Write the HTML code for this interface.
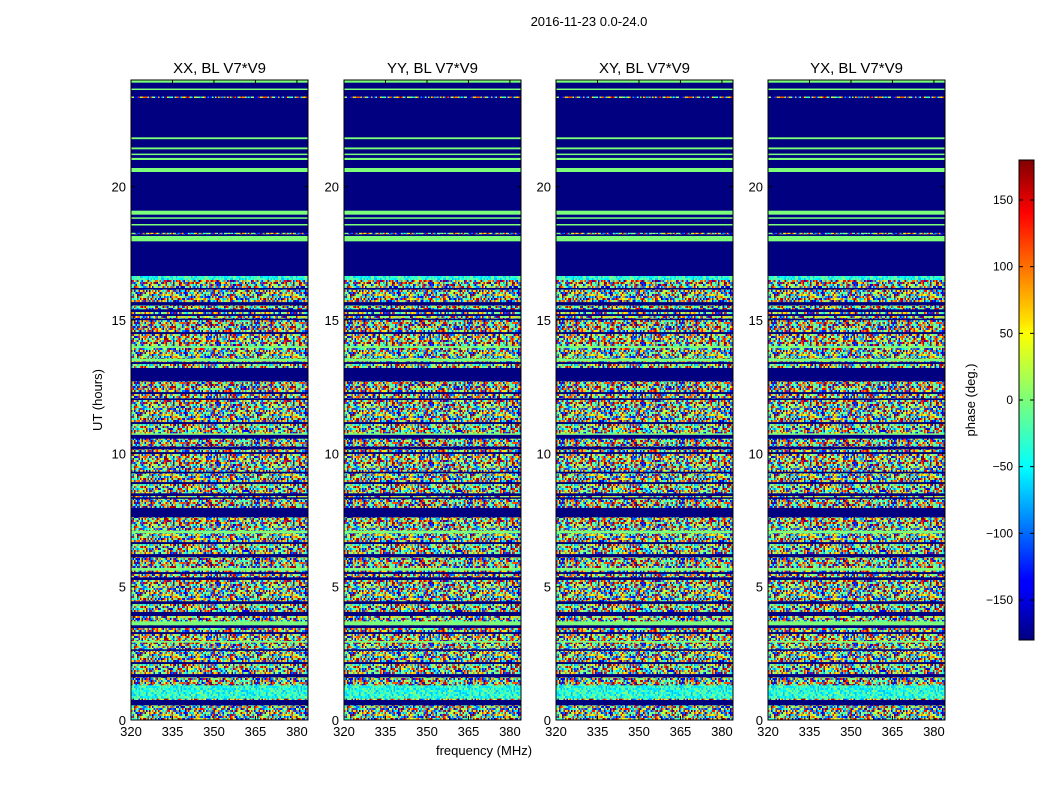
<!DOCTYPE html>
<html><head><meta charset="utf-8"><style>
body{margin:0;background:#fff;font-family:"Liberation Sans",sans-serif;}
svg text{font-family:"Liberation Sans",sans-serif;}
</style></head><body>
<svg id="chart" width="1050" height="800" xmlns="http://www.w3.org/2000/svg">
<defs>
<linearGradient id="jetgrad" x1="0" y1="1" x2="0" y2="0">
<stop offset="0" stop-color="#00007f"/><stop offset="0.11" stop-color="#0000ff"/><stop offset="0.125" stop-color="#0000ff"/>
<stop offset="0.36" stop-color="#00ffff"/><stop offset="0.5" stop-color="#7cff79"/><stop offset="0.64" stop-color="#ffff00"/>
<stop offset="0.66" stop-color="#ffe600"/><stop offset="0.89" stop-color="#ff0000"/><stop offset="1" stop-color="#800000"/>
</linearGradient>
</defs>
<text x="589" y="26" font-size="13" text-anchor="middle">2016-11-23 0.0-24.0</text>
<g id="panels"></g>
<text x="484" y="755" font-size="13" text-anchor="middle">frequency (MHz)</text>
<text transform="translate(102,400) rotate(-90)" font-size="13" text-anchor="middle">UT (hours)</text>
<g id="cbar"></g>
<text transform="translate(975,400) rotate(-90)" font-size="13" text-anchor="middle">phase (deg.)</text>
</svg>
<script>
const titles=["XX, BL V7*V9","YY, BL V7*V9","XY, BL V7*V9","YX, BL V7*V9"];
const xTicks=[320,335,350,365,380];
const yTicks=[0,5,10,15,20];
const cbTicks=[-150,-100,-50,0,50,100,150];
// bands: start hour, end hour, type (n=noise, c=cyan noise, b=blue, g=green)
const bandStart=[0,16.5,23.9,23.33,23.63,21.78,21.40,21.2,21.0,20.55,18.95,18.8,18.55,18.22,17.95,16.15,15.55,15.3,15.0,13.95,13.45,12.7,12.0,11.1,10.7,10.55,10.15,9.25,8.45,8.3,7.6,7.0,6.1,5.6,5.25,4.4,3.95,3.55,3.45,2.9,2.6,2.1,1.6,0.8,0.55];
const bandEnd=[16.5,16.65,24,23.38,23.68,21.85,21.47,21.24,21.08,20.7,19.1,18.85,18.6,18.27,18.15,16.2,15.6,15.4,15.05,14.02,13.55,13.2,12.06,11.16,10.75,10.65,10.25,9.31,8.5,8.35,7.95,7.1,6.16,5.7,5.35,4.45,4.05,3.7,3.55,2.96,2.65,2.16,1.66,1.3,0.75];
const bandType=["n","c","g","n","g","g","g","g","g","g","g","g","g","n","g","b","b","b","b","g","g","b","b","b","g","b","b","b","b","b","b","g","b","g","b","b","b","g","b","g","b","b","b","c","b"];
const panelX=[131,344,556,768], PW=177, TOP=80, BOT=720;
const xMin=320,xMax=384,yMin=0,yMax=24;
function jet(v){const cl=x=>Math.max(0,Math.min(1,x));
 const r=cl(Math.min(4*v-1.5,-4*v+4.5)),g=cl(Math.min(4*v-0.5,-4*v+3.5)),b=cl(Math.min(4*v+0.5,-4*v+2.5));
 return `rgb(${Math.round(r*255)},${Math.round(g*255)},${Math.round(b*255)})`;}
const NS="http://www.w3.org/2000/svg";
const svg=document.getElementById('chart');
const defs=svg.querySelector('defs');
// texture patterns (visual texture only)
let seed=12345;function rnd(){seed=(seed*1103515245+12345)%2147483648;return seed/2147483648;}
function makePattern(id,lo,hi,pgreen,pnavy){
 const p=document.createElementNS(NS,'pattern');p.setAttribute('id',id);p.setAttribute('patternUnits','userSpaceOnUse');
 p.setAttribute('width',120);p.setAttribute('height',60);
 const bg=document.createElementNS(NS,'rect');bg.setAttribute('width',120);bg.setAttribute('height',60);bg.setAttribute('fill','#000080');p.appendChild(bg);
 for(let y=0;y<60;y+=2){
  if(rnd()<pnavy) continue;
  for(let x=0;x<120;x+=1.5){const r=document.createElementNS(NS,'rect');
  r.setAttribute('x',x);r.setAttribute('y',y);r.setAttribute('width',1.6);r.setAttribute('height',2.1);
  const v=rnd()<pgreen?0.5:lo+(hi-lo)*rnd();r.setAttribute('fill',jet(v));p.appendChild(r);}}
 defs.appendChild(p);}
makePattern('noise',0.05,1,0.15,0.06);makePattern('cyan',0.3,0.5,0.1,0);
const fills={n:'url(#noise)',c:'url(#cyan)',b:'#000080',g:'#7cff79'};
const xs=f=>(f-xMin)/(xMax-xMin)*PW;
const ys=h=>BOT-(h-yMin)/(yMax-yMin)*(BOT-TOP);
const pg=document.getElementById('panels');
panelX.forEach((px,i)=>{
 const g=document.createElementNS(NS,'g');
 
 
 g.setAttribute('transform',`translate(${px},0)`);
 const bg=document.createElementNS(NS,'rect');bg.setAttribute('x',0);bg.setAttribute('y',TOP);bg.setAttribute('width',PW);bg.setAttribute('height',BOT-TOP);bg.setAttribute('fill','#000080');g.appendChild(bg);
 bandStart.forEach((s,k)=>{const r=document.createElementNS(NS,'rect');
  
  
  r.setAttribute('x',0);r.setAttribute('y',ys(bandEnd[k]));r.setAttribute('width',PW);
  r.setAttribute('height',Math.max(1.5,ys(s)-ys(bandEnd[k])));r.setAttribute('fill',fills[bandType[k]]);g.appendChild(r);});
 const fr=document.createElementNS(NS,'rect');fr.setAttribute('x',0);fr.setAttribute('y',TOP);fr.setAttribute('width',PW);fr.setAttribute('height',BOT-TOP);fr.setAttribute('fill','none');fr.setAttribute('stroke','#000');g.appendChild(fr);
 const t=document.createElementNS(NS,'text');t.setAttribute('x',PW/2);t.setAttribute('y',73);t.setAttribute('font-size','15');t.setAttribute('text-anchor','middle');t.textContent=titles[i];
 
 
 g.appendChild(t);
 xTicks.forEach(v=>{const x=xs(v);
  [[BOT,BOT-4],[TOP,TOP+4]].forEach(([a,b])=>{const l=document.createElementNS(NS,'line');l.setAttribute('x1',x);l.setAttribute('x2',x);l.setAttribute('y1',a);l.setAttribute('y2',b);l.setAttribute('stroke','#000');g.appendChild(l);});
  const tx=document.createElementNS(NS,'text');tx.setAttribute('x',x);tx.setAttribute('y',736);tx.setAttribute('font-size','13');tx.setAttribute('text-anchor','middle');tx.textContent=v;
  
  
  g.appendChild(tx);});
 yTicks.forEach(v=>{const y=ys(v);
  [[0,4],[PW,PW-4]].forEach(([a,b])=>{const l=document.createElementNS(NS,'line');l.setAttribute('x1',a);l.setAttribute('x2',b);l.setAttribute('y1',y);l.setAttribute('y2',y);l.setAttribute('stroke','#000');g.appendChild(l);});
  const ty=document.createElementNS(NS,'text');ty.setAttribute('x',-5);ty.setAttribute('y',y+5);ty.setAttribute('font-size','13');ty.setAttribute('text-anchor','end');ty.textContent=v;
  
  
  g.appendChild(ty);});
 pg.appendChild(g);});
// colorbar
const cb=document.getElementById('cbar');const CX=1019,CW=15,CT=160,CB=640;
const cy=v=>CB-(v+180)/360*(CB-CT);
const cr=document.createElementNS(NS,'rect');cr.setAttribute('x',CX);cr.setAttribute('y',CT);cr.setAttribute('width',CW);cr.setAttribute('height',CB-CT);cr.setAttribute('fill','url(#jetgrad)');cr.setAttribute('stroke','#000');cb.appendChild(cr);
cbTicks.forEach(v=>{const y=cy(v);
 [[CX,CX+4],[CX+CW,CX+CW-4]].forEach(([a,b])=>{const l=document.createElementNS(NS,'line');l.setAttribute('x1',a);l.setAttribute('x2',b);l.setAttribute('y1',y);l.setAttribute('y2',y);l.setAttribute('stroke','#000');cb.appendChild(l);});
 const t=document.createElementNS(NS,'text');t.setAttribute('x',1013);t.setAttribute('y',y+4);t.setAttribute('font-size','12');t.setAttribute('text-anchor','end');t.textContent=v<0?'\u2212'+(-v):v;
 
 
 cb.appendChild(t);});
</script>
</body></html>
